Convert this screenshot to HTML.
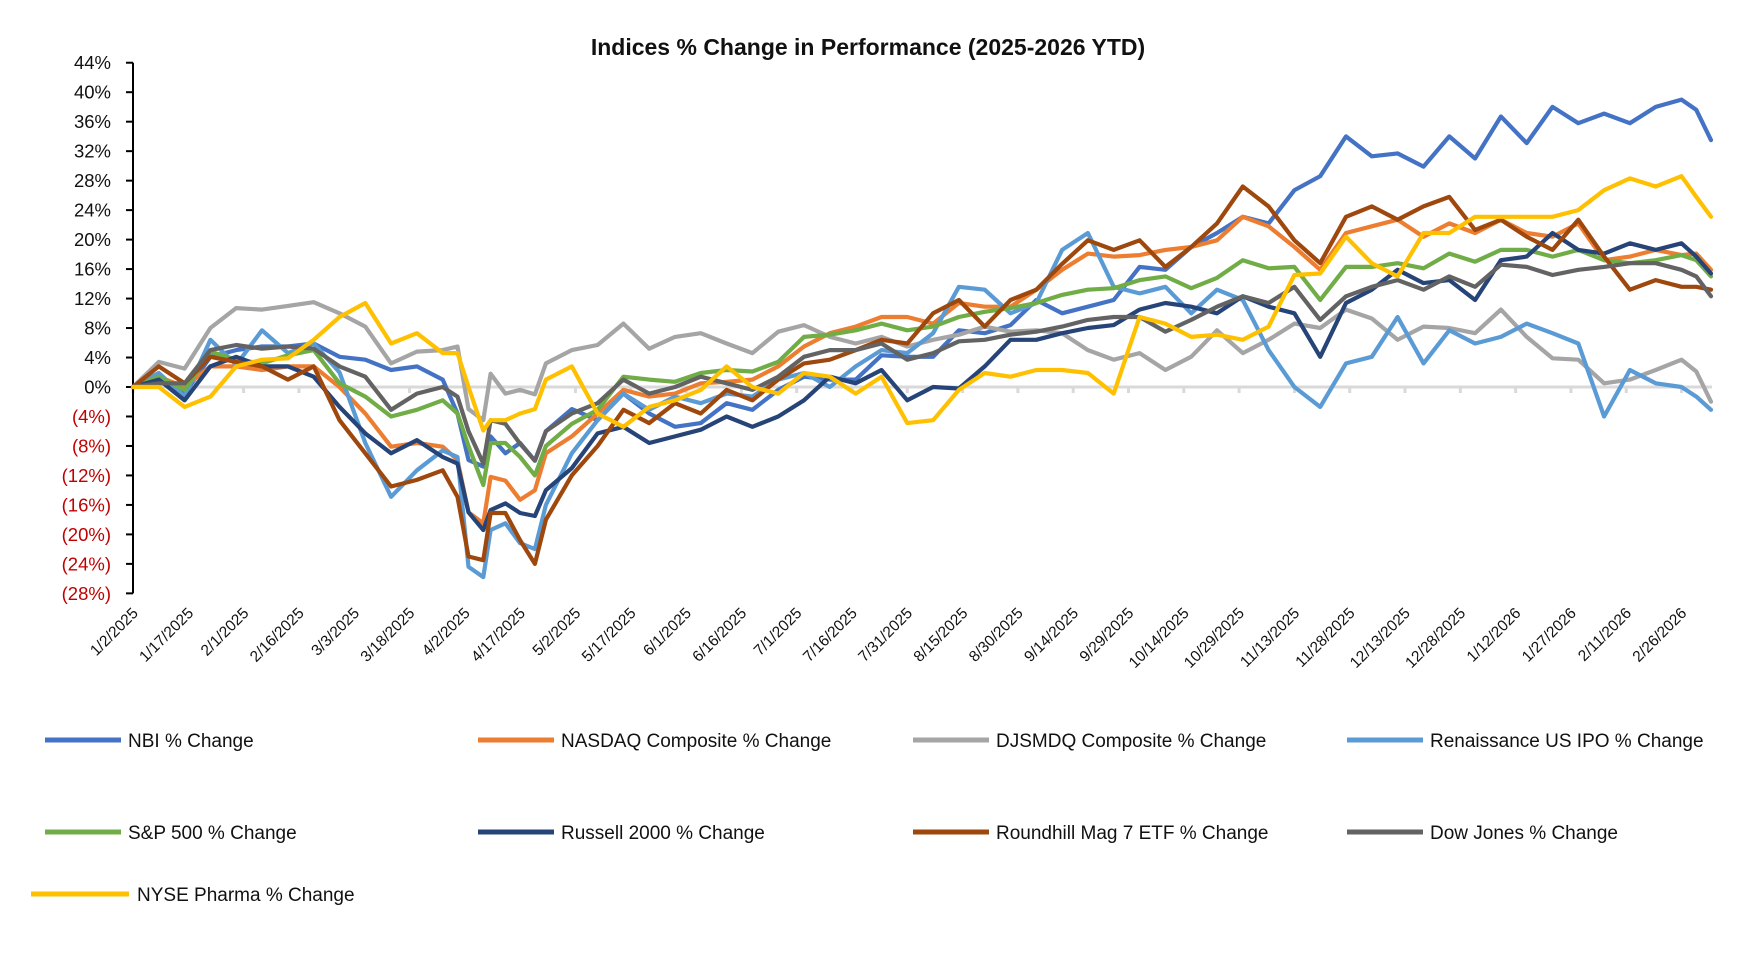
<!DOCTYPE html>
<html><head><meta charset="utf-8"><style>
html,body{margin:0;padding:0;background:#fff;}
svg{display:block;font-family:"Liberation Sans",sans-serif;}
</style></head><body>
<svg id="chart" width="1750" height="954" viewBox="0 0 1750 954">
<text x="868" y="55" text-anchor="middle" font-size="23" font-weight="bold" fill="#111">Indices % Change in Performance (2025-2026 YTD)</text>
<g id="axes"></g>
<g id="lines"></g>
<g id="legend"></g>
</svg>
<script>
const days = [0,7,14,21,28,35,42,49,56,63,70,77,84,88,91,95,97,101,105,109,112,119,126,133,140,147,154,161,168,175,182,189,196,203,210,217,224,231,238,245,252,259,266,273,280,287,294,301,308,315,322,329,336,343,350,357,364,371,378,385,392,399,406,413,420,424,428];
const yTicks = [44,40,36,32,28,24,20,16,12,8,4,0,-4,-8,-12,-16,-20,-24,-28];
const xTickLabels = ["1/2/2025","1/17/2025","2/1/2025","2/16/2025","3/3/2025","3/18/2025","4/2/2025","4/17/2025","5/2/2025","5/17/2025","6/1/2025","6/16/2025","7/1/2025","7/16/2025","7/31/2025","8/15/2025","8/30/2025","9/14/2025","9/29/2025","10/14/2025","10/29/2025","11/13/2025","11/28/2025","12/13/2025","12/28/2025","1/12/2026","1/27/2026","2/11/2026","2/26/2026"];
const seriesNames = ["NBI % Change","NASDAQ Composite % Change","DJSMDQ Composite % Change","Renaissance US IPO % Change","S&P 500 % Change","Russell 2000 % Change","Roundhill Mag 7 ETF % Change","Dow Jones % Change","NYSE Pharma % Change"];
const nbi = [0,1,-0.9,4.1,5,5.5,5.5,5.9,4.1,3.7,2.3,2.8,1,-3.6,-9.9,-10.8,-6.7,-9,-7.6,-10,-6,-3,-4.5,-0.9,-3.6,-5.4,-4.9,-2.2,-3.1,-0.4,1.4,1,1,4.3,4.1,4.1,7.7,7.3,8.4,11.8,10,10.9,11.8,16.3,15.9,19,20.9,23.1,22.2,26.7,28.6,34,31.3,31.7,29.9,34,31,36.7,33.1,38,35.8,37.1,35.8,38,39,37.6,33.5];
const nasdaq = [0,1.4,0,2.8,2.8,2.3,2.8,2.8,0,-3.6,-8.1,-7.6,-8.1,-9.9,-17,-18.5,-12.2,-12.7,-15.3,-14,-9,-6.7,-3.6,-0.4,-1.3,-0.9,0.5,0.7,1,2.8,5.5,7.3,8.2,9.5,9.5,8.6,11.4,10.9,10.9,13.2,15.9,18.1,17.7,17.9,18.6,19,19.9,23.1,21.8,19,15.9,20.9,21.8,22.7,20.4,22.2,20.9,22.7,20.9,20.4,22.2,17.2,17.7,18.6,17.9,18.1,15.9];
const djsmdq = [0,3.4,2.5,8,10.7,10.5,11,11.5,10,8.2,3.2,4.8,5,5.5,-3,-4.5,1.8,-0.9,-0.4,-1,3.2,5,5.7,8.6,5.2,6.8,7.3,5.9,4.6,7.5,8.4,6.8,5.9,6.8,5.5,6.4,7.1,8.2,7.5,7.7,7.3,5,3.7,4.6,2.3,4.1,7.7,4.6,6.4,8.6,8,10.5,9.3,6.4,8.2,8,7.3,10.5,6.8,3.9,3.7,0.5,1,2.3,3.7,2.1,-2];
const ipo = [0,1.9,-1.3,6.4,3,7.7,4.6,5.9,2,-7.6,-14.9,-11.3,-8.6,-9.5,-24.4,-25.8,-19.4,-18.5,-21.2,-22,-16,-9,-4.5,-0.9,-3.1,-1.3,-2.2,-0.9,-1.3,1,1.9,0,2.8,5,4.6,7.3,13.6,13.2,10,11.4,18.6,20.9,13.6,12.7,13.6,10,13.2,11.8,5,0,-2.7,3.2,4.1,9.5,3.2,7.7,5.9,6.8,8.6,7.3,5.9,-4,2.3,0.5,0,-1.3,-3.1];
const sp500 = [0,1.4,-0.4,4.8,3.7,3.2,4.3,5,0.5,-1.3,-4,-3.1,-1.8,-3.6,-8,-13.3,-7.6,-7.6,-9.5,-12,-8,-5,-3.1,1.4,1,0.7,1.9,2.3,2.1,3.4,6.8,7.1,7.7,8.6,7.7,8.2,9.5,10.2,10.7,11.4,12.5,13.2,13.4,14.5,15,13.4,14.8,17.2,16.1,16.3,11.8,16.3,16.3,16.8,16.1,18.1,17,18.6,18.6,17.7,18.6,17.2,16.8,17.2,17.9,17.2,15];
const russell = [0,1,-1.8,2.8,4.1,2.8,2.8,1.4,-2.7,-6.3,-9,-7.2,-9.5,-10.4,-17,-19.4,-16.7,-15.8,-17.1,-17.5,-14,-11,-6.3,-5.4,-7.6,-6.7,-5.8,-4,-5.4,-4,-1.8,1.4,0.5,2.3,-1.8,0,-0.2,2.8,6.4,6.4,7.3,8,8.4,10.5,11.4,10.9,10,12.3,10.9,10,4.1,11.4,13.2,15.9,14.1,14.5,11.8,17.2,17.7,20.9,18.6,18.1,19.5,18.6,19.5,17.7,15.4];
const mag7 = [0,2.8,0.5,4.1,3.4,2.8,1,2.8,-4.5,-9,-13.5,-12.6,-11.3,-14.9,-23,-23.5,-17.1,-17.1,-20.8,-24,-18,-12,-8,-3.1,-4.9,-2.2,-3.6,-0.4,-1.8,1,3.2,3.7,5,6.4,5.9,10,11.8,8.2,11.8,13.2,16.7,19.9,18.6,19.9,16.3,19,22.2,27.2,24.5,19.9,16.8,23.1,24.5,22.7,24.5,25.8,21.3,22.7,20.4,18.6,22.7,17.7,13.2,14.5,13.6,13.6,13.2];
const dow = [0,0.5,0.5,5,5.7,5.2,5.5,5.2,2.8,1.4,-3.1,-0.9,0,-1.3,-6,-10.4,-4.5,-5,-7.7,-10,-6,-3.6,-2.2,1,-0.9,0,1.4,0.5,-0.4,1.4,4.1,5,5,5.9,3.7,4.6,6.2,6.4,7.1,7.5,8.2,9.1,9.5,9.5,7.5,9.1,10.9,12.3,11.4,13.6,9.1,12.3,13.6,14.5,13.2,15,13.6,16.6,16.3,15.2,15.9,16.3,16.8,16.8,15.9,15,12.3];
const pharma = [0,0,-2.7,-1.3,2.8,3.7,3.9,6.4,9.5,11.4,5.9,7.3,4.6,4.6,0,-5.9,-4.5,-4.5,-3.6,-3,1,2.8,-3.6,-5.4,-2.7,-1.8,-0.4,2.8,0,-0.9,1.9,1.4,-0.9,1.4,-4.9,-4.5,-0.4,1.9,1.4,2.3,2.3,1.9,-0.9,9.5,8.6,6.8,7.1,6.4,8.2,15.2,15.4,20.4,16.8,15,20.9,20.9,23.1,23.1,23.1,23.1,24,26.7,28.3,27.2,28.6,25.8,23.1];

const NS="http://www.w3.org/2000/svg";
const X0=133, PXD=3.687, Y0=387, PXV=7.37;
function xs(d){return X0+d*PXD;}
function ys(v){return Y0-v*PXV;}
function mk(tag,attrs,parent){const e=document.createElementNS(NS,tag);for(const k in attrs)e.setAttribute(k,attrs[k]);parent.appendChild(e);return e;}
const axes=document.getElementById('axes');
// zero line
const zl=mk('line',{x1:X0,y1:ys(0),x2:1712,y2:ys(0),stroke:'#d9d9d9','stroke-width':3},axes);


xTickLabels.forEach((lab,i)=>{
  const x=xs(i*15);
  const t=mk('line',{x1:x,y1:ys(0),x2:x,y2:ys(0)+6,stroke:'#d9d9d9','stroke-width':3},axes);
  
  
  const tx=mk('text',{x:0,y:0,'text-anchor':'end','font-size':15.5,fill:'#111',transform:`translate(${x+6},${614}) rotate(-45)`},axes);
  tx.textContent=lab;
  
  
});
const ya=mk('line',{x1:X0,y1:ys(44),x2:X0,y2:ys(-28),stroke:'#000','stroke-width':2},axes);


yTicks.forEach(v=>{
  const y=ys(v);
  const t=mk('line',{x1:X0-7,y1:y,x2:X0,y2:y,stroke:'#000','stroke-width':2},axes);
  
  
  const tx=mk('text',{x:111,y:y+6.5,'text-anchor':'end','font-size':18.5,fill:v<0?'#c00000':'#111'},axes);
  tx.textContent=v<0?`(${-v}%)`:`${v}%`;
  
  
});
const seriesData=[nbi,nasdaq,djsmdq,ipo,sp500,russell,mag7,dow,pharma];
const colors=['#4472C4','#ED7D31','#A5A5A5','#5B9BD5','#70AD47','#264478','#9E480E','#636363','#FFC000'];
const slug=['nbi','nasdaq','djsmdq','ipo','sp500','russell-2000','mag7','dow-jones','nyse-pharma'];
const lines=document.getElementById('lines');
seriesData.forEach((arr,si)=>{
  const n=Math.min(arr.length,days.length);
  let d='';
  for(let i=0;i<n;i++){d+=(i?'L':'M')+xs(days[i]).toFixed(1)+','+ys(arr[i]).toFixed(1);}
  const p=mk('path',{d:d,fill:'none',stroke:colors[si],'stroke-width':4.2,'stroke-linejoin':'round','stroke-linecap':'round'},lines);
  
  
});
const legend=document.getElementById('legend');
const legPos=[[45,740],[478,740],[913,740],[1347,740],[45,832],[478,832],[913,832],[1347,832],[31,894]];
seriesNames.forEach((nm,i)=>{
  const [lx,ly]=legPos[i];
  const len=i===8?98:76;
  const g=mk('g',{},legend);
  
  
  mk('line',{x1:lx,y1:ly,x2:lx+len,y2:ly,stroke:colors[i],'stroke-width':5},g);
  const t=mk('text',{x:lx+len+(i===8?8:7),y:ly+7,'font-size':19,fill:'#111'},g);
  t.textContent=nm;
});
</script>
</body></html>
